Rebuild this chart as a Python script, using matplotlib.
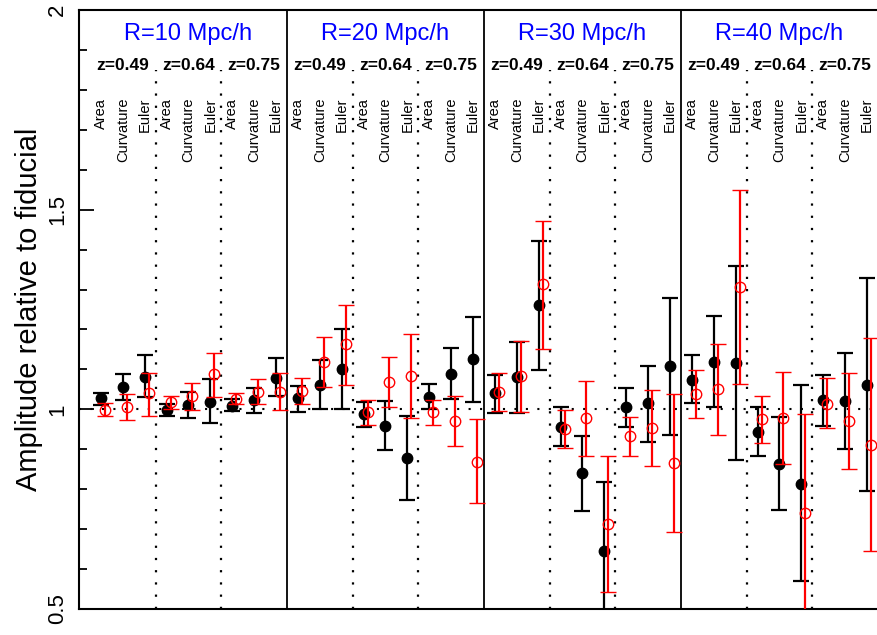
import numpy as np
import matplotlib as mpl
mpl.use('Agg')
import matplotlib.pyplot as plt
from matplotlib.ticker import MultipleLocator

plt.rcParams['font.family'] = ['Liberation Sans', 'DejaVu Sans']

radii = ['R=10 Mpc/h', 'R=20 Mpc/h', 'R=30 Mpc/h', 'R=40 Mpc/h']
redshifts = ['z=0.49', 'z=0.64', 'z=0.75']
stats = ['Area', 'Curvature', 'Euler']

# black filled points: value, lower end, upper end of error bar
blk_val = [1.028, 1.057, 1.082, 0.998, 1.011, 1.019, 1.008, 1.023, 1.079,
           1.028, 1.061, 1.101, 0.988, 0.959, 0.877, 1.032, 1.089, 1.125,
           1.040, 1.080, 1.261, 0.957, 0.840, 0.646, 1.005, 1.015, 1.109,
           1.073, 1.119, 1.117, 0.944, 0.863, 0.813, 1.023, 1.021, 1.061]
blk_lo = [1.011, 1.023, 1.030, 0.984, 0.978, 0.965, 0.996, 0.992, 1.033,
          0.993, 1.001, 1.001, 0.955, 0.898, 0.773, 1.000, 1.026, 1.019,
          0.990, 0.990, 1.099, 0.908, 0.745, 0.450, 0.957, 0.919, 0.936,
          1.015, 1.005, 0.873, 0.884, 0.748, 0.571, 0.959, 0.900, 0.796]
blk_hi = [1.042, 1.088, 1.136, 1.013, 1.044, 1.075, 1.025, 1.054, 1.128,
          1.059, 1.124, 1.201, 1.018, 1.022, 0.983, 1.063, 1.153, 1.232,
          1.086, 1.169, 1.422, 1.005, 0.933, 0.817, 1.053, 1.109, 1.280,
          1.136, 1.234, 1.359, 1.005, 0.980, 1.061, 1.086, 1.140, 1.328]

# red open circles
red_val = [0.998, 1.005, 1.040, 1.018, 1.034, 1.088, 1.026, 1.044, 1.044,
           1.047, 1.119, 1.163, 0.993, 1.068, 1.083, 0.993, 0.972, 0.869,
           1.044, 1.083, 1.313, 0.950, 0.978, 0.713, 0.933, 0.953, 0.866,
           1.038, 1.050, 1.306, 0.975, 0.978, 0.741, 1.013, 0.972, 0.911]
red_lo = [0.984, 0.973, 0.984, 1.001, 0.998, 1.030, 1.013, 1.013, 0.998,
          1.013, 1.057, 1.061, 0.961, 1.007, 0.979, 0.961, 0.908, 0.765,
          0.997, 0.993, 1.150, 0.902, 0.884, 0.543, 0.884, 0.858, 0.694,
          0.978, 0.936, 1.063, 0.915, 0.862, 0.450, 0.953, 0.851, 0.646]
red_hi = [1.015, 1.038, 1.090, 1.033, 1.065, 1.140, 1.040, 1.075, 1.092,
          1.079, 1.180, 1.261, 1.023, 1.130, 1.188, 1.023, 1.034, 0.975,
          1.090, 1.172, 1.472, 0.998, 1.071, 0.884, 0.980, 1.048, 1.038,
          1.099, 1.164, 1.549, 1.034, 1.094, 0.988, 1.078, 1.092, 1.178]

blk_val = np.array(blk_val)
red_val = np.array(red_val)
x = np.arange(1, len(blk_val) + 1)

fig = plt.figure(figsize=(8.78, 6.35), dpi=100)
ax = fig.add_axes([79/878, 26/635, 799/878, 599/635])
ax.set_xlim(0, 36.5)
ax.set_ylim(0.5, 2)

# reference line and separators
ax.axhline(1.0, color='k', lw=1.5, ls=(0, (1, 4.5)), zorder=1)
for i in range(1, 12):
    xd = i*3 + 0.5
    if i % 3 == 0:
        if xd < 36:
            ax.axvline(xd, color='k', lw=1.3, zorder=1)
    else:
        ax.plot([xd, xd], [0.5, 1.85], color='k', lw=1.6, ls=(0, (1, 4.5)), zorder=1)

ax.errorbar(x, blk_val, yerr=[blk_val - np.array(blk_lo), np.array(blk_hi) - blk_val],
            fmt='o', color='k', ms=7.5, elinewidth=1.6, capsize=5.5, capthick=1.6, zorder=3)
ax.errorbar(x + 0.18, red_val, yerr=[red_val - np.array(red_lo), np.array(red_hi) - red_val],
            fmt='o', mfc='none', mec='red', color='red', ms=7.5, mew=1.0,
            elinewidth=1.6, capsize=5.5, capthick=1.6, zorder=4)

# labels
for p, r in enumerate(radii):
    ax.text(p*9 + 5, 1.94, r, color='blue', fontsize=17, ha='center', va='center')
    for q, z in enumerate(redshifts):
        ax.text(p*9 + q*3 + 2, 1.86, z, color='k', fontsize=12.5, fontweight='bold',
                ha='center', va='center')
        for s, st in enumerate(stats):
            ax.text(p*9 + q*3 + s + 1, 1.78, st, rotation=90, fontsize=10.5,
                    ha='center', va='top')

ax.spines['right'].set_visible(False)
for sp in ['left', 'top', 'bottom']:
    ax.spines[sp].set_linewidth(1.5)
ax.set_xticks([])
ax.yaxis.set_major_locator(MultipleLocator(0.5))
ax.yaxis.set_minor_locator(MultipleLocator(0.1))
ax.yaxis.set_major_formatter(plt.FuncFormatter(lambda v, pos: '%g' % v))
ax.tick_params(axis='y', which='major', direction='in', length=11, width=1.3,
               labelsize=16, labelrotation=90, pad=8)
ax.tick_params(axis='y', which='minor', direction='in', length=6, width=1.3)
for lab in ax.get_yticklabels():
    lab.set_va('center')
ax.set_ylabel('Amplitude relative to fiducial', fontsize=21, labelpad=3)

fig.savefig('out.png', dpi=100)
